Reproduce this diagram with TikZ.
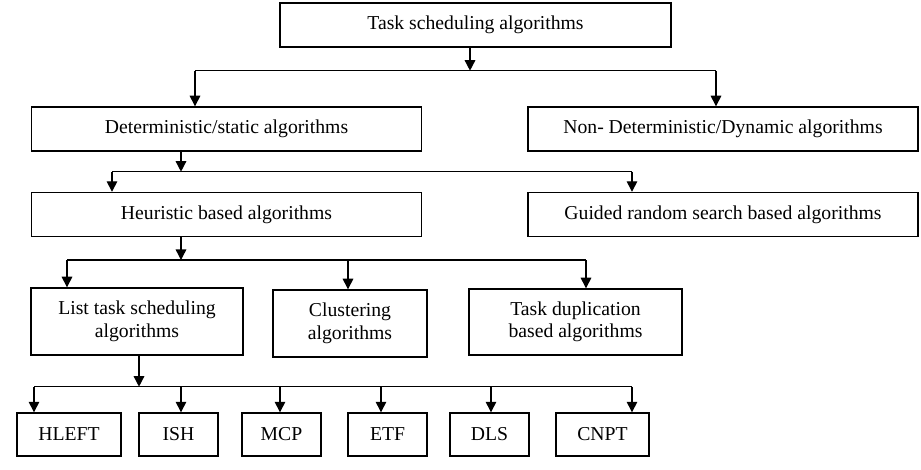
\documentclass[tikz,border=0pt]{standalone}
\usepackage{fontspec}
\setmainfont{Liberation Serif}
\usetikzlibrary{arrows.meta, positioning, calc}
\tikzset{
  algbox/.style={draw, line width=1pt, align=center, inner sep=0pt,
    font=\fontsize{14}{16}\selectfont},
  widebox/.style={algbox, minimum width=9.75cm, minimum height=1.1cm},
  leafbox/.style={algbox, minimum height=1.075cm},
  flow/.style={line width=1pt, -{Triangle[length=7.5pt,width=7.5pt]}},
  bus/.style={line width=1pt}
}

\begin{document}
\begin{tikzpicture}[x=0.025cm, y=-0.025cm]
        \useasboundingbox (0,0) rectangle (921,469);
        % boxes
        \node[widebox, minimum width=9.775cm] (tsa) at (475.5,25) {Task scheduling algorithms};
        \node[widebox] (det) at (226.5,129) {Deterministic/static algorithms};
        \node[widebox] (nondet) at (723,129) {Non- Deterministic/Dynamic algorithms};
        \node[widebox] (heur) at (226.5,214.5) {Heuristic based algorithms};
        \node[widebox] (guided) at (723,214.5) {Guided random search based algorithms};
        \node[algbox, minimum width=5.3cm, minimum height=1.675cm] (list) at (137,321.5)
          {List task scheduling\\algorithms};
        \node[algbox, minimum width=3.85cm, minimum height=1.675cm] (clust) at (350,323.5)
          {Clustering\\algorithms};
        \node[algbox, minimum width=5.325cm, minimum height=1.65cm] (dup) at (575.5,322)
          {Task duplication\\based algorithms};
        % junction points
        \coordinate (t0) at (470,70.7);
        \coordinate (t1) at (195,70.7);
        \coordinate (t2) at (716,70.7);
        \coordinate (d0) at (181,171.7);
        \coordinate (d1) at (112,171.7);
        \coordinate (d2) at (632,171.7);
        \coordinate (h0) at (181,260);
        \coordinate (h1) at (67,260);
        \coordinate (h2) at (348,260);
        \coordinate (h3) at (586,260);
        \coordinate (l0) at (139,386.7);
        % first split
        \draw[flow] (t0 |- tsa.south) -- (t0);
        \draw[bus] (t1) -- (t2);
        \draw[flow] (t1) -- (t1 |- det.north);
        \draw[flow] (t2) -- (t2 |- nondet.north);
        % second split
        \draw[flow] (d0 |- det.south) -- (d0);
        \draw[bus] (d1) -- (d2);
        \draw[flow] (d1) -- (d1 |- heur.north);
        \draw[flow] (d2) -- (d2 |- guided.north);
        % third split
        \draw[flow] (h0 |- heur.south) -- (h0);
        \draw[bus] (h1) -- (h3);
        \draw[flow] (h1) -- (h1 |- list.north);
        \draw[flow] (h2) -- (h2 |- clust.north);
        \draw[flow] (h3) -- (h3 |- dup.north);
        % list algorithms
        \draw[flow] (l0 |- list.south) -- (l0);
        \foreach \name/\cx/\w/\ax in {HLEFT/69/2.6/34, ISH/178.5/1.975/181, MCP/281.5/1.975/280,
          ETF/387.5/1.975/381, DLS/489.5/1.975/491, CNPT/602.5/2.325/632}{
          \node[leafbox, minimum width=\w cm] (\name) at (\cx,434.5) {\name};
          \coordinate (j\name) at (\ax,386.7);
          \draw[flow] (j\name) -- (j\name |- \name.north);
        }
        \draw[bus] (jHLEFT) -- (jCNPT);
      \end{tikzpicture}
\end{document}
